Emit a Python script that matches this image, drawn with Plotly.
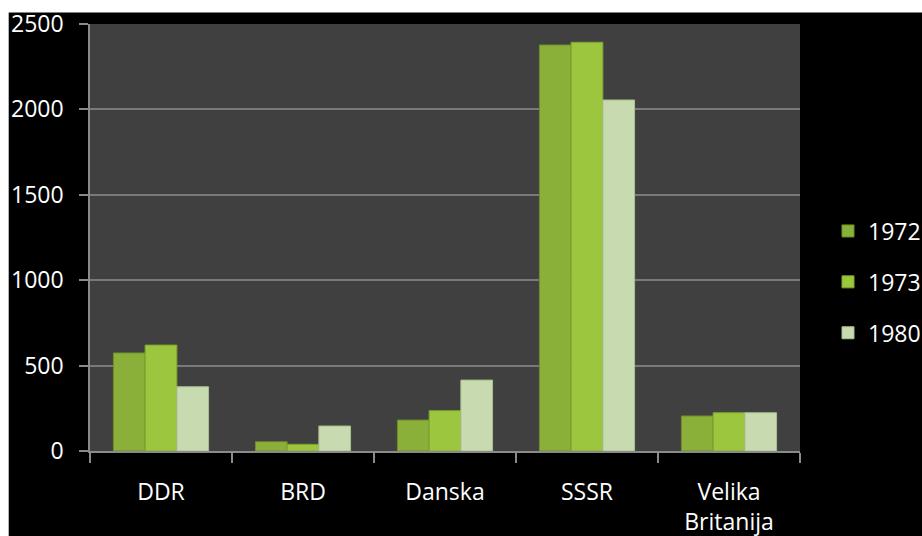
import plotly.graph_objects as go

categories = ["DDR", "BRD", "Danska", "SSSR", "Velika<br>Britanija"]
series_names = ["1972", "1973", "1980"]
values_1972 = [574, 54, 181, 2377, 205]
values_1973 = [620, 39, 236, 2393, 224]
values_1980 = [376, 146, 415, 2055, 224]
y_ticks = [0, 500, 1000, 1500, 2000, 2500]

colors = ["#8bb03a", "#9dc63f", "#c8dab0"]
line_colors = ["#6f8f2a", "#7fa52e", "#a9bf90"]

W, H = 922, 536
L, R, T, B = 90, 122, 24, 85
pw, ph = W - L - R, H - T - B

FONT = "Open Sans"
fig = go.Figure()
for i, (name, vals) in enumerate(zip(series_names, [values_1972, values_1973, values_1980])):
    fig.add_trace(go.Bar(
        x=categories, y=vals, name=name, legendgroup=name,
        marker=dict(color=colors[i], line=dict(color=line_colors[i], width=1)),
    ))

fig.update_layout(
    width=W, height=H,
    margin=dict(l=L, r=R, t=T, b=B, pad=0, autoexpand=False),
    paper_bgcolor="black", plot_bgcolor="#404040",
    barmode="group", bargap=0.33, bargroupgap=0,
    font=dict(family=FONT, size=23, color="white"),
    showlegend=True,
    legend=dict(x=1 + 28 / pw, xanchor="left", y=1 - (282 - T) / ph, yanchor="middle",
                font=dict(family=FONT, size=23, color="white"),
                bgcolor="rgba(0,0,0,0)", traceorder="grouped", tracegroupgap=18,
                itemwidth=30),
    xaxis=dict(showgrid=False, showline=True, linecolor="#8a8a8a", linewidth=1.5,
               ticks="outside", tickson="boundaries", ticklen=10, tickcolor="#8a8a8a",
               tickwidth=1.5, ticklabelstandoff=20, automargin=False,
               tickfont=dict(family=FONT, size=23, color="white")),
    yaxis=dict(range=[0, 2500], tickvals=y_ticks, showgrid=True, gridcolor="#7a7a7a",
               gridwidth=1.5, showline=True, linecolor="#8a8a8a", linewidth=1.5,
               ticks="outside", ticklen=9, tickcolor="#8a8a8a", tickwidth=1.5,
               ticklabelstandoff=11, zeroline=False, automargin=False,
               tickfont=dict(family=FONT, size=23, color="white")),
    shapes=[
        dict(type="rect", xref="paper", yref="paper", layer="above",
             x0=-L / pw, x1=(W - L) / pw, y0=1 + (T - 12.5) / ph, y1=1 + T / ph,
             fillcolor="white", line=dict(width=0)),
        dict(type="rect", xref="paper", yref="paper", layer="above",
             x0=-L / pw, x1=(-L + 8.7) / pw, y0=-B / ph, y1=1 + T / ph,
             fillcolor="white", line=dict(width=0)),
    ],
)

fig.write_html(
    "out.html",
    config={"displayModeBar": False},
    post_script="document.body.style.margin='0';document.body.style.overflow='hidden';",
)
